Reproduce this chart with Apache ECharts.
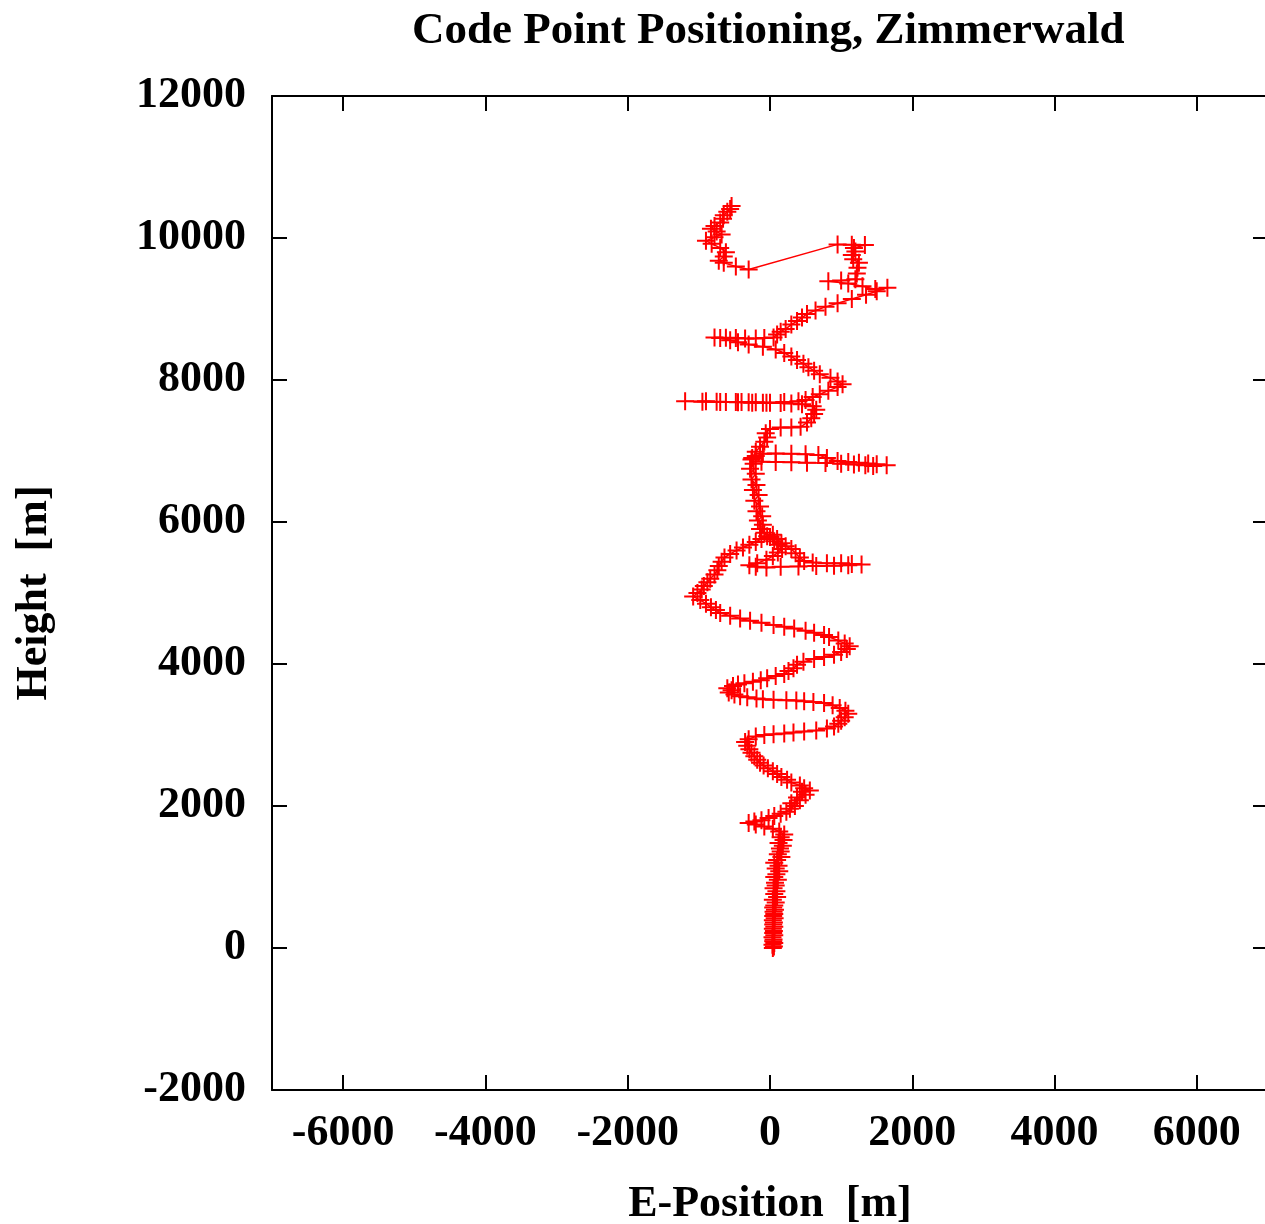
<!DOCTYPE html>
<html>
<head>
<meta charset="utf-8">
<script src="https://cdn.jsdelivr.net/npm/echarts@6/dist/echarts.min.js"></script>
<style>
html,body{margin:0;padding:0;background:#fff;overflow:hidden;}
#chart{width:1265px;height:1224px;}
</style>
</head>
<body>
<div id="chart"></div>
<script>
const chartTitle = 'Code Point Positioning, Zimmerwald';
const xName = 'E-Position  [m]';
const yName = 'Height  [m]';
const xTicks = [-6000, -4000, -2000, 0, 2000, 4000, 6000];
const yTicks = [-2000, 0, 2000, 4000, 6000, 8000, 10000, 12000];
// [E-position, height], in flight order
const trackPoints = [
[40,0],[55,20],[35,45],[60,70],[45,95],[50,120],[35,150],[60,180],[45,210],[55,240],
[40,270],[60,300],[45,330],[55,360],[40,390],[65,420],[45,450],[60,480],[50,510],[70,540],
[45,570],[60,600],[80,640],[40,680],[100,720],[60,760],[90,800],[50,840],[80,880],[70,920],
[110,960],[60,1000],[90,1040],[130,1080],[80,1120],[120,1160],[60,1200],[100,1240],[160,1280],[110,1320],
[150,1360],[140,1400],[180,1440],[120,1480],[190,1520],[150,1560],[200,1600],[130,1640],[40,1680],[-80,1710],
[-200,1740],[-300,1760],[-220,1780],[-120,1800],[-20,1830],[60,1860],[150,1890],[230,1920],[280,1960],[350,2000],
[300,2040],[420,2080],[380,2120],[500,2160],[450,2200],[560,2220],[480,2250],[420,2290],[300,2330],[240,2370],
[160,2410],[100,2450],[40,2490],[-30,2530],[-90,2570],[-140,2610],[-180,2650],[-220,2700],[-260,2750],[-290,2800],
[-320,2850],[-350,2900],[-300,2940],[-200,2980],[-80,3000],[50,3010],[200,3020],[330,3035],[480,3050],[650,3065],
[800,3090],[900,3120],[960,3160],[1000,3200],[1050,3250],[1100,3300],[1060,3340],[980,3380],[880,3420],[760,3450],
[610,3465],[480,3475],[370,3485],[230,3490],[50,3495],[-100,3505],[-190,3515],[-320,3530],[-420,3545],[-500,3570],
[-580,3600],[-540,3630],[-600,3660],[-520,3690],[-450,3710],[-360,3730],[-240,3750],[-130,3770],[-40,3800],[80,3830],
[200,3860],[260,3900],[330,3940],[380,3990],[470,4030],[620,4070],[760,4100],[900,4130],[1000,4170],[1080,4210],
[1120,4250],[1050,4290],[960,4330],[830,4380],[760,4410],[620,4440],[500,4470],[340,4500],[200,4525],[50,4550],
[-120,4580],[-280,4610],[-420,4640],[-560,4680],[-700,4720],[-760,4760],[-830,4800],[-900,4850],[-980,4900],[-1080,4950],
[-1020,5000],[-960,5050],[-930,5100],[-880,5150],[-840,5200],[-780,5260],[-740,5320],[-720,5380],[-680,5440],[-640,5500],
[-560,5550],[-470,5600],[-380,5640],[-290,5680],[-200,5720],[-120,5760],[-40,5800],[40,5820],[100,5760],[160,5700],
[220,5660],[300,5620],[360,5560],[420,5500],[480,5450],[600,5430],[800,5420],[1000,5420],[1150,5410],[1287,5400],
[1100,5390],[900,5385],[650,5380],[400,5375],[150,5370],[-50,5360],[-200,5370],[-290,5390],[-180,5420],[-50,5470],
[40,5520],[110,5570],[170,5620],[120,5680],[60,5730],[0,5790],[-80,5850],[-140,5900],[-100,5960],[-170,6020],
[-110,6080],[-190,6150],[-140,6220],[-220,6300],[-160,6380],[-240,6450],[-190,6520],[-260,6600],[-200,6680],[-280,6750],
[-230,6820],[-260,6880],[-200,6930],[-100,6960],[80,6965],[300,6960],[500,6955],[680,6945],[800,6900],[950,6860],
[1100,6845],[1250,6835],[1380,6825],[1500,6815],[1640,6800],[1450,6790],[1340,6800],[1180,6810],[1000,6820],[780,6830],
[520,6835],[300,6840],[80,6845],[-120,6850],[-250,6900],[-200,6990],[-140,7060],[-80,7130],[-40,7190],[-60,7250],
[0,7310],[150,7330],[300,7330],[430,7340],[520,7400],[580,7460],[620,7520],[650,7580],[600,7630],[450,7660],
[300,7670],[150,7675],[0,7680],[-100,7680],[-200,7685],[-300,7685],[-400,7690],[-480,7690],[-620,7690],[-750,7695],
[-900,7700],[-1193,7700],[-950,7695],[-700,7690],[-450,7685],[-250,7680],[-50,7680],[200,7690],[400,7700],[500,7720],
[600,7760],[700,7800],[820,7850],[950,7900],[1020,7940],[950,7980],[850,8030],[700,8080],[620,8130],[540,8180],
[470,8230],[380,8280],[300,8330],[200,8380],[80,8430],[-100,8470],[-300,8500],[-450,8530],[-560,8560],[-700,8590],
[-780,8600],[-620,8595],[-480,8590],[-350,8585],[-200,8585],[-80,8590],[50,8600],[100,8640],[150,8680],[220,8720],
[300,8780],[380,8830],[450,8880],[520,8930],[640,8980],[780,9030],[950,9080],[1150,9140],[1350,9200],[1500,9250],
[1650,9300],[1480,9280],[1300,9320],[1100,9360],[820,9390],[1000,9400],[1200,9420],[1220,9500],[1230,9580],[1250,9650],
[1170,9700],[1150,9760],[1200,9810],[1180,9860],[1334,9900],[1150,9905],[950,9910],
[-300,9555],[-480,9600],[-650,9650],[-720,9680],[-650,9740],[-620,9800],[-700,9860],[-820,9920],
[-900,9960],[-780,10010],[-680,10050],[-750,10090],[-830,10130],[-780,10170],[-700,10220],[-660,10270],[-650,10320],[-600,10370],
[-560,10410],[-540,10450]
];

const FONT = '"Liberation Serif", "Times New Roman", serif';
const chart = echarts.init(document.getElementById('chart'));
const plusSymbol = 'path://M8,0H10V8H18V10H10V18H8V10H0V8H8Z';
const plainNum = v => String(v);

chart.setOption({
  animation: false,
  backgroundColor: '#ffffff',
  title: {
    text: chartTitle,
    left: 407,
    top: 4,
    textStyle: { fontFamily: FONT, fontWeight: 'bold', fontSize: 45, color: '#000' }
  },
  grid: { left: 272, top: 96, width: 996, height: 994, containLabel: false, outerBoundsMode: 'none' },
  xAxis: [{
    type: 'value', min: -7000, max: 7000, position: 'bottom',
    name: xName, nameLocation: 'middle', nameGap: 93,
    nameTextStyle: { fontFamily: FONT, fontWeight: 'bold', fontSize: 44, color: '#000' },
    axisLine: { show: true, onZero: false, lineStyle: { color: '#000', width: 2 } },
    axisTick: { show: true, inside: true, length: 15, customValues: xTicks, lineStyle: { color: '#000', width: 2 } },
    axisLabel: { show: true, customValues: xTicks, formatter: plainNum, margin: 22, fontFamily: FONT, fontWeight: 'bold', fontSize: 44, color: '#000' },
    splitLine: { show: false }
  }, {
    type: 'value', min: -7000, max: 7000, position: 'top',
    axisLine: { show: true, onZero: false, lineStyle: { color: '#000', width: 2 } },
    axisTick: { show: true, inside: true, length: 15, customValues: xTicks, lineStyle: { color: '#000', width: 2 } },
    axisLabel: { show: false },
    splitLine: { show: false }
  }],
  yAxis: [{
    type: 'value', min: -2000, max: 12000, interval: 2000, position: 'left',
    name: yName, nameLocation: 'middle', nameGap: 215, nameRotate: 90,
    nameTextStyle: { fontFamily: FONT, fontWeight: 'bold', fontSize: 44, color: '#000' },
    axisLine: { show: true, onZero: false, lineStyle: { color: '#000', width: 2 } },
    axisTick: { show: true, inside: true, length: 15, lineStyle: { color: '#000', width: 2 } },
    axisLabel: { show: true, formatter: plainNum, margin: 26, fontFamily: FONT, fontWeight: 'bold', fontSize: 44, color: '#000' },
    splitLine: { show: false }
  }, {
    type: 'value', min: -2000, max: 12000, interval: 2000, position: 'right',
    axisLine: { show: true, onZero: false, lineStyle: { color: '#000', width: 2 } },
    axisTick: { show: true, inside: true, length: 15, lineStyle: { color: '#000', width: 2 } },
    axisLabel: { show: false },
    splitLine: { show: false }
  }],
  series: [{
    type: 'line',
    xAxisIndex: 0, yAxisIndex: 0,
    data: trackPoints,
    showSymbol: true,
    symbol: plusSymbol,
    symbolSize: 18,
    itemStyle: { color: '#ff0000', borderWidth: 0 },
    lineStyle: { color: '#ff0000', width: 1.5 },
    emphasis: { disabled: true },
    clip: false
  }]
});
</script>
</body>
</html>
